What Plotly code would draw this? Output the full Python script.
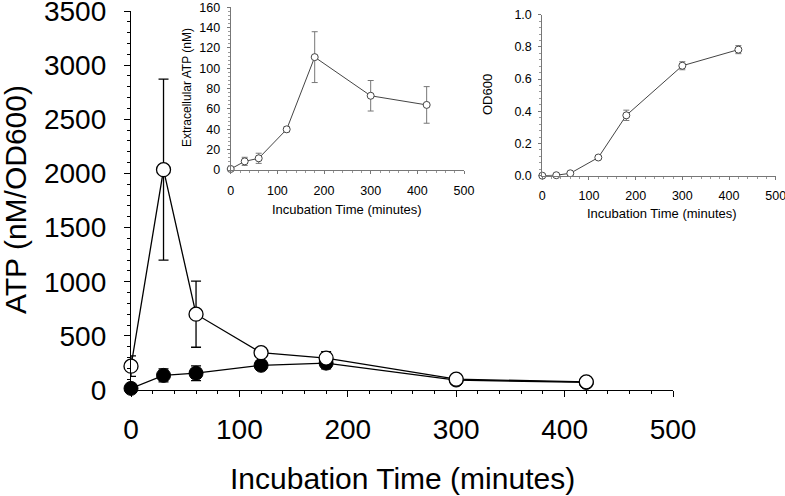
import plotly.graph_objects as go

# ---- data ----
time_main = [0, 30, 60, 120, 180, 300, 420]
atp_open = [220, 2035, 700, 345, 295, 100, 75]
atp_open_err = [95, 835, 305, 25, 60, 15, 10]
atp_filled = [15, 135, 155, 228, 248, 92, 70]
atp_filled_err = [12, 60, 68, 25, 52, 10, 8]

time_inset = [0, 30, 60, 120, 180, 300, 420]
extra_atp = [1, 8.5, 11.5, 40, 111, 73, 64]
extra_atp_err = [1, 4, 5, 2.5, 25, 15, 18]
od600 = [0.0, 0.003, 0.015, 0.113, 0.375, 0.683, 0.783]
od600_err = [0.003, 0.003, 0.006, 0.008, 0.032, 0.025, 0.025]

main_x_ticks = [0, 100, 200, 300, 400, 500]
main_y_ticks = [0, 500, 1000, 1500, 2000, 2500, 3000, 3500]
inset1_y_ticks = [0, 20, 40, 60, 80, 100, 120, 140, 160]
inset2_y_ticks = [0, 0.2, 0.4, 0.6, 0.8, 1.0]
inset2_y_labels = ["0.0", "0.2", "0.4", "0.6", "0.8", "1.0"]

FONT = "Liberation Sans, Arial, sans-serif"
W, H = 785, 496

def px_x(p):
    return p / W

def px_y(p):
    return (H - p) / H

fig = go.Figure()

# main chart
fig.add_trace(go.Scatter(
    x=time_main, y=atp_filled, mode="lines+markers",
    line=dict(color="black", width=1.3),
    marker=dict(symbol="circle", size=14, color="black", line=dict(color="black", width=1)),
    error_y=dict(type="data", array=atp_filled_err, color="black", thickness=1.3, width=5),
    cliponaxis=False, xaxis="x", yaxis="y", showlegend=False))
fig.add_trace(go.Scatter(
    x=time_main, y=atp_open, mode="lines+markers",
    line=dict(color="black", width=1.3),
    marker=dict(symbol="circle", size=14, color="white", line=dict(color="black", width=1.3)),
    error_y=dict(type="data", array=atp_open_err, color="black", thickness=1.3, width=5),
    cliponaxis=False, xaxis="x", yaxis="y", showlegend=False))

# inset 1
fig.add_trace(go.Scatter(
    x=time_inset, y=extra_atp, mode="lines+markers",
    line=dict(color="#444", width=1),
    marker=dict(symbol="circle", size=7, color="white", line=dict(color="#444", width=1)),
    error_y=dict(type="data", array=extra_atp_err, color="#777", thickness=1, width=3),
    cliponaxis=False, xaxis="x2", yaxis="y2", showlegend=False))

# inset 2
fig.add_trace(go.Scatter(
    x=time_inset, y=od600, mode="lines+markers",
    line=dict(color="#444", width=1),
    marker=dict(symbol="circle", size=7, color="white", line=dict(color="#444", width=1)),
    error_y=dict(type="data", array=od600_err, color="#777", thickness=1, width=3),
    cliponaxis=False, xaxis="x3", yaxis="y3", showlegend=False))

main_tick_font = dict(family=FONT, size=28, color="black")
inset_tick_font = dict(family=FONT, size=12.5, color="black")

common = dict(showgrid=False, zeroline=False, automargin=False, showline=True,
              ticks="outside", ticklabeloverflow="allow")

fig.update_layout(
    template="none",
    width=W, height=H,
    margin=dict(l=0, r=0, t=0, b=0, pad=0, autoexpand=False),
    paper_bgcolor="white", plot_bgcolor="rgba(0,0,0,0)",
    xaxis=dict(domain=[px_x(131), px_x(673)], range=[0, 500], anchor="y",
               tickvals=main_x_ticks, ticklen=6,
               tickcolor="black", tickwidth=1.3, linecolor="black", linewidth=1.3,
               tickfont=main_tick_font, ticklabelstandoff=8,
               minor=dict(dtick=20, ticks="outside", ticklen=3, tickcolor="black", tickwidth=1, showgrid=False),
               **common),
    yaxis=dict(domain=[px_y(390), px_y(11)], range=[0, 3500], anchor="x",
               tickvals=main_y_ticks, ticklen=6,
               tickcolor="black", tickwidth=1.3, linecolor="black", linewidth=1.3,
               tickfont=main_tick_font, ticklabelstandoff=12,
               minor=dict(dtick=100, ticks="outside", ticklen=3, tickcolor="black", tickwidth=1, showgrid=False),
               **common),
    xaxis2=dict(domain=[px_x(230.7), px_x(464)], range=[0, 500], anchor="y2",
                tickvals=main_x_ticks, ticklen=3,
                tickcolor="#777", tickwidth=1, linecolor="#777", linewidth=1,
                tickfont=inset_tick_font, ticklabelstandoff=6,
                minor=dict(dtick=20, ticks="outside", ticklen=2, tickcolor="#999", tickwidth=1, showgrid=False),
                **common),
    yaxis2=dict(domain=[px_y(170), px_y(7.3)], range=[0, 160], anchor="x2",
                tickvals=inset1_y_ticks, ticklen=3,
                tickcolor="#777", tickwidth=1, linecolor="#777", linewidth=1,
                tickfont=inset_tick_font, ticklabelstandoff=4,
                minor=dict(dtick=4, ticks="outside", ticklen=2, tickcolor="#999", tickwidth=1, showgrid=False),
                **common),
    xaxis3=dict(domain=[px_x(542.3), px_x(775.7)], range=[0, 500], anchor="y3",
                tickvals=main_x_ticks, ticklen=3,
                tickcolor="#777", tickwidth=1, linecolor="#777", linewidth=1,
                tickfont=inset_tick_font, ticklabelstandoff=5,
                minor=dict(dtick=20, ticks="outside", ticklen=2, tickcolor="#999", tickwidth=1, showgrid=False),
                **common),
    yaxis3=dict(domain=[px_y(175.7), px_y(14.7)], range=[0, 1.0], anchor="x3",
                tickvals=inset2_y_ticks, ticktext=inset2_y_labels,
                ticklen=3,
                tickcolor="#777", tickwidth=1, linecolor="#777", linewidth=1,
                tickfont=inset_tick_font, ticklabelstandoff=4,
                minor=dict(dtick=0.04, ticks="outside", ticklen=2, tickcolor="#999", tickwidth=1, showgrid=False),
                **common),
)

annots = [
    dict(text="Incubation Time (minutes)", x=px_x(402), y=px_y(478), size=30, angle=0),
    dict(text="ATP (nM/OD600)", x=px_x(15), y=px_y(200), size=30, angle=-90),
    dict(text="Incubation Time (minutes)", x=px_x(347), y=px_y(209), size=13, angle=0),
    dict(text="Extracellular ATP (nM)", x=px_x(187), y=px_y(88), size=12, angle=-90),
    dict(text="Incubation Time (minutes)", x=px_x(662), y=px_y(214), size=13, angle=0),
    dict(text="OD600", x=px_x(487), y=px_y(95), size=13, angle=-90),
]
for a in annots:
    fig.add_annotation(text=a["text"], x=a["x"], y=a["y"], xref="paper", yref="paper",
                       xanchor="center", yanchor="middle", showarrow=False, textangle=a["angle"],
                       font=dict(family=FONT, size=a["size"], color="black"))

fig.write_html("out.html", config={"displayModeBar": False},
               post_script="document.body.style.margin='0';document.body.style.padding='0';")
